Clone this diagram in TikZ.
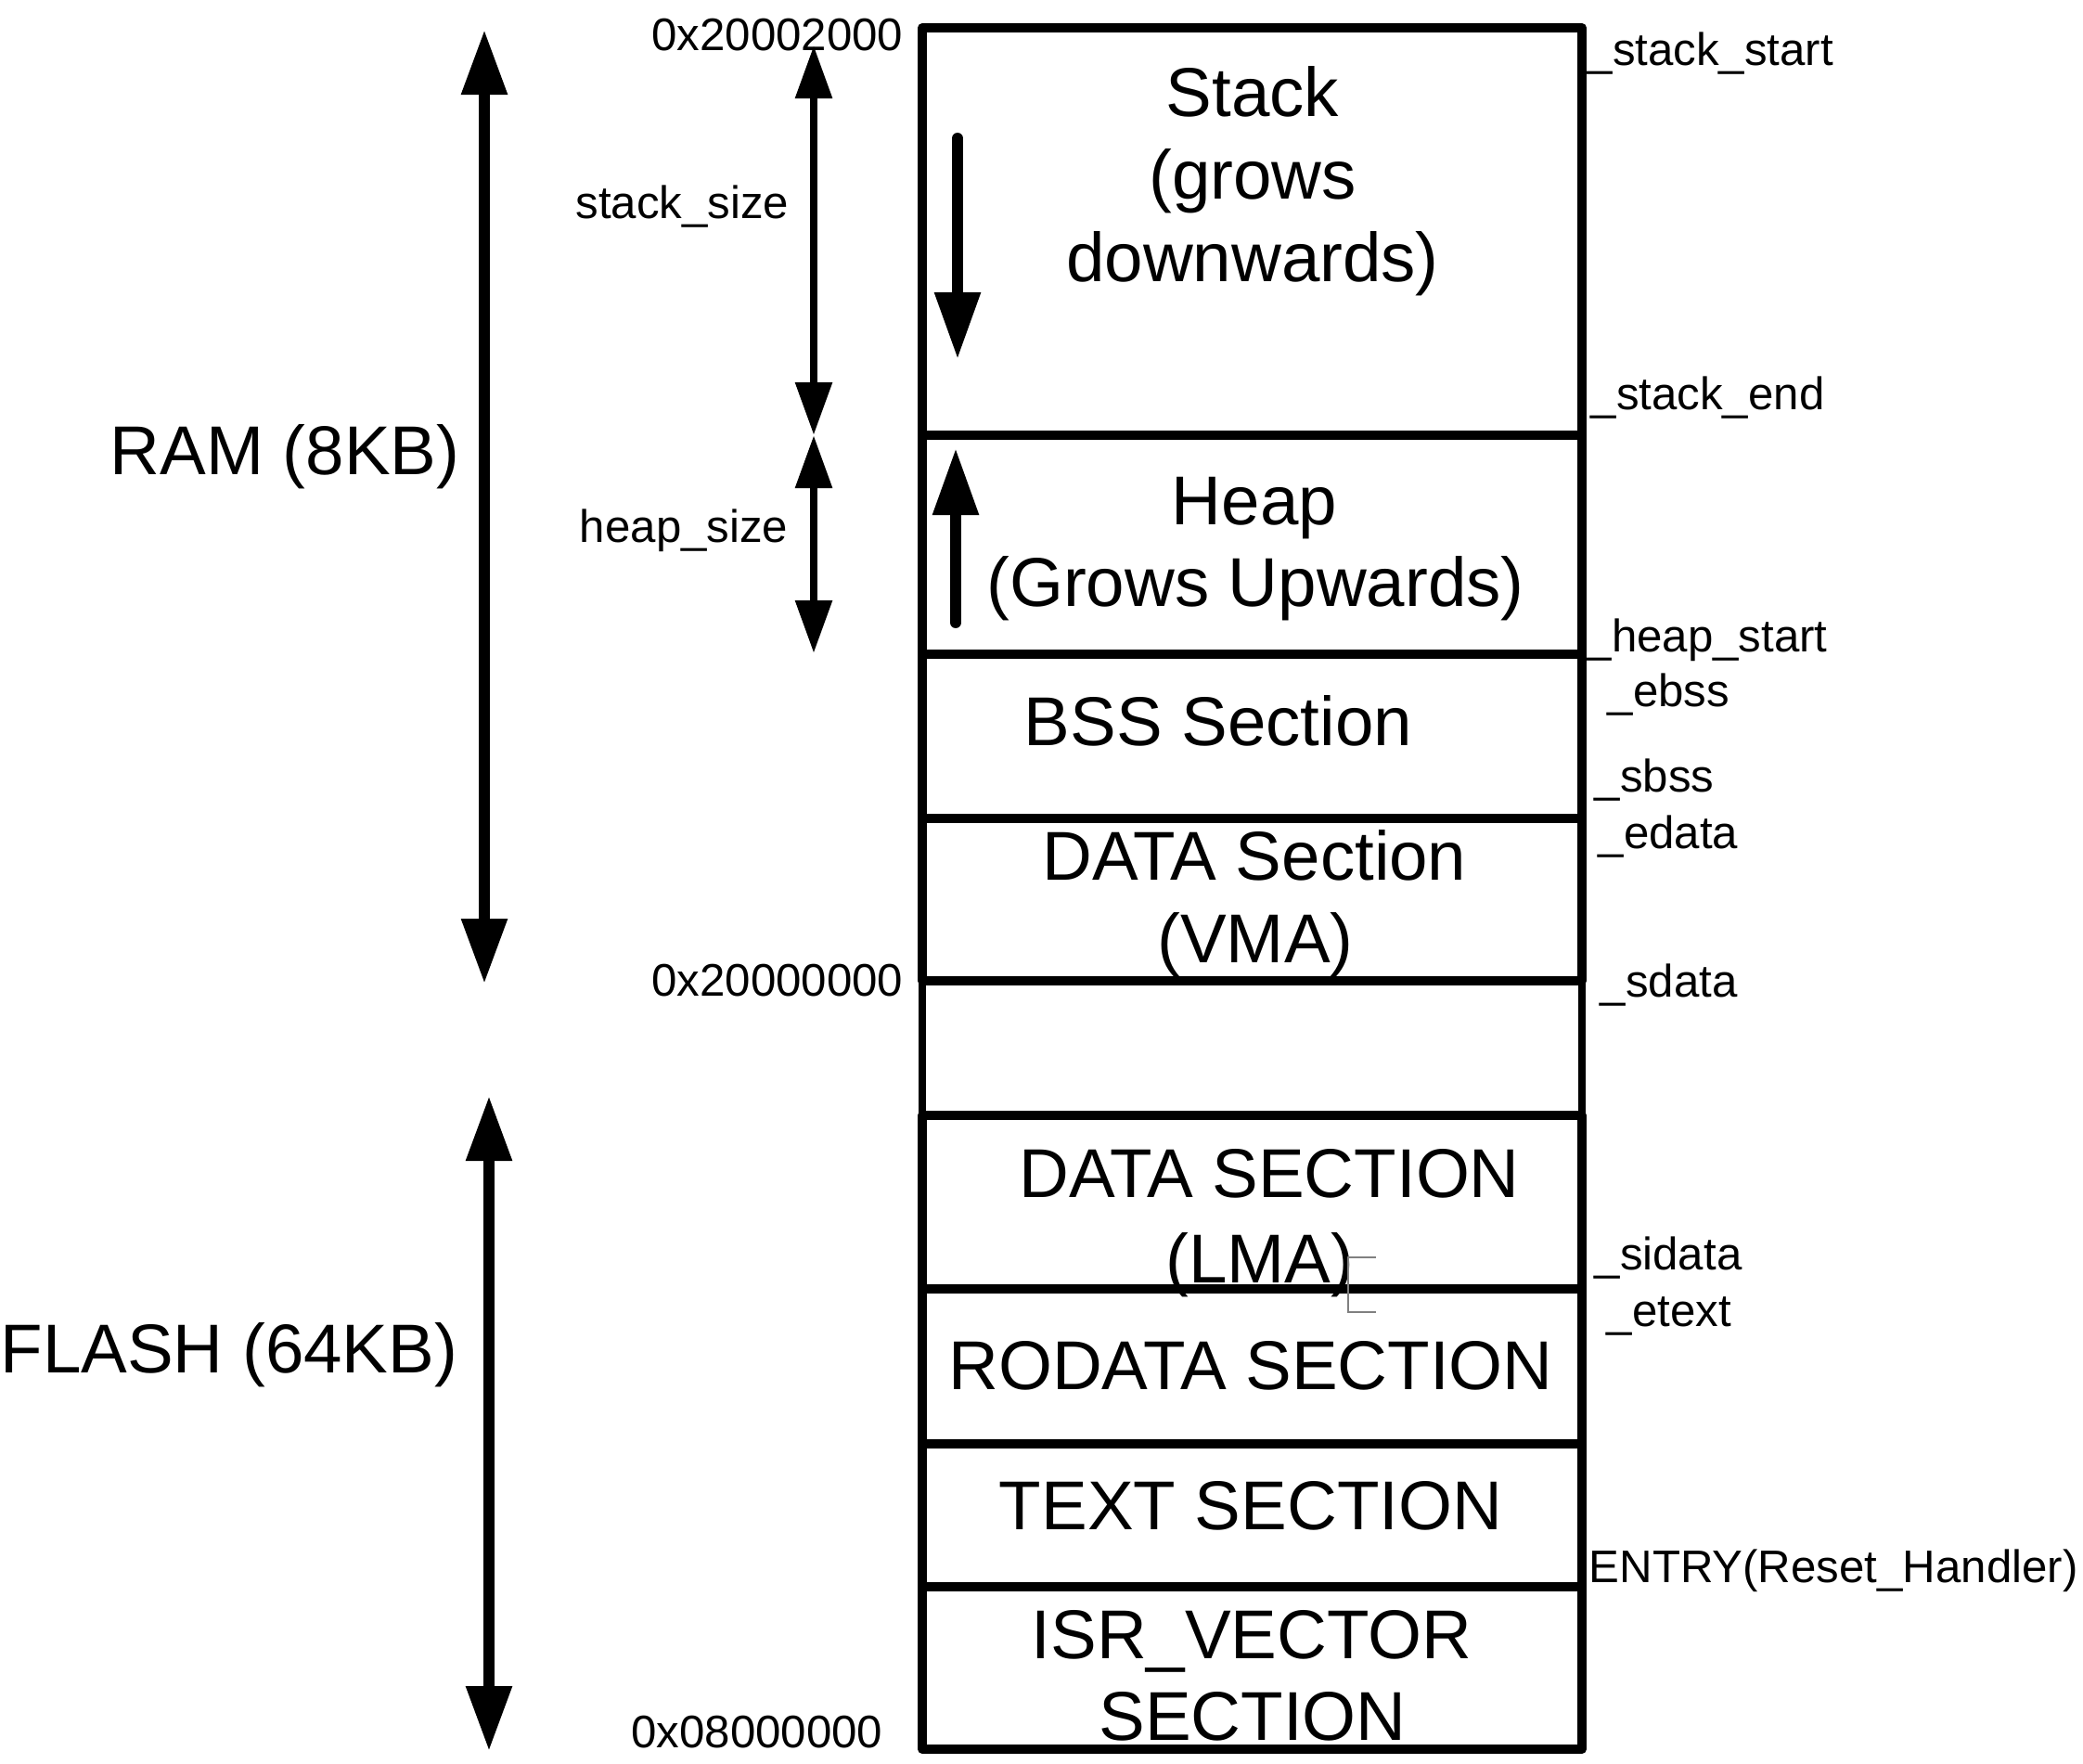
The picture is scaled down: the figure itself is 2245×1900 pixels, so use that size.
\documentclass[tikz,border=0pt]{standalone}
\usepackage{fontspec}
\setmainfont{Liberation Sans}
\usetikzlibrary{arrows.meta, positioning}

\begin{document}
\begin{tikzpicture}[x=0.1mm, y=-0.1mm,
  sect/.style={rectangle, draw, line width=2.8pt, line join=round,
               minimum width=71.1mm, inner sep=0pt, outer sep=0pt},
  big/.style={inner sep=0pt, anchor=base, font=\fontsize{21.2}{25.1}\selectfont},
  small/.style={inner sep=0pt, font=\fontsize{14}{16.8}\selectfont},
  memarrow/.style={{Triangle[length=7mm,width=4.7mm]}-{Triangle[length=7mm,width=4.7mm]}, line width=3.4pt},
  sizearrow/.style={{Triangle[length=5.7mm,width=3.8mm]}-{Triangle[length=5.7mm,width=3.8mm]}, line width=2.5pt},
  growarrow/.style={-{Triangle[length=7.2mm,width=4.7mm]}, line width=3.4pt, line cap=round}
]
  \useasboundingbox (0,0) rectangle (2245,1900);

  % memory sections, top to bottom
  \node[sect, minimum height=43.9mm] (stack) at (1349.5,249.5) {};
  \node[sect, minimum height=23.6mm, below=0pt of stack] (heap) {};
  \node[sect, minimum height=17.7mm, below=0pt of heap] (bss) {};
  \node[sect, minimum height=17.5mm, below=0pt of bss] (vma) {};
  \node[sect, minimum height=14.5mm, below=0pt of vma, line width=2.2pt] (gap) {};
  \node[sect, minimum height=18.7mm, below=0pt of gap] (lma) {};
  \node[sect, minimum height=16.7mm, below=0pt of lma] (rodata) {};
  \node[sect, minimum height=15.4mm, below=0pt of rodata] (text) {};
  \node[sect, minimum height=17.5mm, below=0pt of text] (isr) {};

  % section names
  \node[big] (stk1) at (1350,125) {Stack};
  \node[big] (stk2) at (1350,214) {(grows};
  \node[big] (stk3) at (1350,303) {downwards)};
  \node[big] (hp1) at (1352,565) {Heap};
  \node[big] (hp2) at (1353,653) {(Grows Upwards)};
  \node[big] (bsslbl) at (1313,803) {BSS Section};
  \node[big] (vma1) at (1352,948) {DATA Section};
  \node[big] (vma2) at (1353,1037) {(VMA)};
  \node[big] (lma1) at (1368,1290) {DATA SECTION};
  \node[big] (lma2) at (1358,1382) {(LMA)};
  \node[big] (rolbl) at (1348,1497) {RODATA SECTION};
  \node[big] (txtlbl) at (1348,1648) {TEXT SECTION};
  \node[big] (isr1) at (1349,1787) {ISR\_VECTOR};
  \node[big] (isr2) at (1350,1875) {SECTION};

  % grow direction
  \coordinate (stkfrom) at (1032,149);
  \coordinate (stkto) at (1032,387);
  \coordinate (hpfrom) at (1030,671);
  \coordinate (hpto) at (1030,483);
  \draw[growarrow] (stkfrom) -- (stkto);
  \draw[growarrow] (hpfrom) -- (hpto);

  % symbols on the right
  \node[small, anchor=base west] (sstart) at (1710,70) {\_stack\_start};
  \node[small, anchor=base west] (send) at (1714,441) {\_stack\_end};
  \node[small, anchor=base west] (hstart) at (1709,702) {\_heap\_start};
  \node[small, anchor=base west] (ebss) at (1732,761) {\_ebss};
  \node[small, anchor=base west] (sbss) at (1718,853) {\_sbss};
  \node[small, anchor=base west] (edata) at (1722,914) {\_edata};
  \node[small, anchor=base west] (sdata) at (1724,1074) {\_sdata};
  \node[small, anchor=base west] (sidata) at (1718,1368) {\_sidata};
  \node[small, anchor=base west] (etext) at (1731,1429) {\_etext};
  \node[small, anchor=base west] (entry) at (1712,1705) {ENTRY(Reset\_Handler)};

  % addresses and sizes on the left
  \node[small, anchor=base east] (atop) at (974,54) {0x20002000};
  \node[small, anchor=base east] (aram) at (974,1073) {0x20000000};
  \node[small, anchor=base east] (aflash) at (952,1883) {0x08000000};
  \node[small, anchor=base east] (ssize) at (851,235) {stack\_size};
  \node[small, anchor=base east] (hsize) at (850,584) {heap\_size};

  \coordinate (stop) at (877,49);
  \coordinate (smid) at (877,469);
  \coordinate (hbot) at (877,704);
  \draw[sizearrow] (stop) -- (smid);
  \draw[sizearrow] (smid) -- (hbot);

  \node[big, anchor=base east] (ramlbl) at (496,511) {RAM (8KB)};
  \node[big, anchor=base east] (flashlbl) at (494,1479) {FLASH (64KB)};

  \coordinate (ramtop) at (522,32);
  \coordinate (rambot) at (522,1060);
  \coordinate (fltop) at (527,1181);
  \coordinate (flbot) at (527,1887);
  \draw[memarrow] (ramtop) -- (rambot);
  \draw[memarrow] (fltop) -- (flbot);

  % stray mark beside (LMA)
  \draw[gray, line width=0.4pt] (1483,1355) -- (1453,1355) -- (1453,1414) -- (1483,1414);
\end{tikzpicture}
\end{document}
